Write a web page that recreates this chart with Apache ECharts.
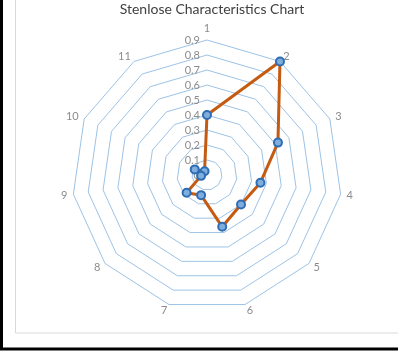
<!DOCTYPE html>
<html>
<head>
<meta charset="utf-8">
<title>Stenlose Characteristics Chart</title>
<script src="https://cdn.jsdelivr.net/npm/echarts@6/dist/echarts.min.js"></script>
<style>
  html, body { margin: 0; padding: 0; background: #fff; }
  #chart { width: 398px; height: 360px; }
</style>
</head>
<body>
<div id="chart"></div>
<script>
// Characteristic numbers, listed clockwise from the top spoke
const categories = ['1', '2', '3', '4', '5', '6', '7', '8', '9', '10', '11'];
const values = [0.40, 0.90, 0.52, 0.36, 0.30, 0.36, 0.14, 0.18, 0.04, 0.09, 0.03];
const ringMax = 0.9;
const ringSteps = 9;

// ECharts lays indicators out counter-clockwise, so keep the first one on top
// and walk the rest backwards to read clockwise.
const order = [0].concat(categories.map((_, i) => i).slice(1).reverse());

const indicators = order.map((i, k) => {
  const ind = { name: categories[i], max: ringMax, min: 0 };
  if (k === 0) {
    // Ring values are printed only along the top spoke
    ind.axisLabel = {
      show: true,
      color: '#8c8c8c',
      fontSize: 11,
      fontFamily: 'Lato',
      margin: 7,
      formatter: v => String(+v.toFixed(1))
    };
  }
  return ind;
});

const chart = echarts.init(document.getElementById('chart'), null, { renderer: 'canvas' });
chart.setOption({
  animation: false,
  backgroundColor: '#fff',
  title: {
    text: 'Stenlose Characteristics Chart',
    left: 207,
    textAlign: 'center',
    top: -3,
    textStyle: { color: '#404040', fontSize: 14, fontWeight: 'normal', fontFamily: 'Lato' }
  },
  graphic: [
    { type: 'rect', silent: true, shape: { x: 15.5, y: -10, width: 400, height: 343 },
      style: { fill: null, stroke: '#d9d9d9', lineWidth: 1 } },
    { type: 'line', silent: true, shape: { x1: 1.5, y1: 0, x2: 1.5, y2: 350 },
      style: { stroke: '#000', lineWidth: 3 } },
    { type: 'line', silent: true, shape: { x1: 0, y1: 349, x2: 398, y2: 349 },
      style: { stroke: '#000', lineWidth: 3 } }
  ],
  radar: {
    center: [207, 175],
    radius: 135,
    startAngle: 90,
    shape: 'polygon',
    splitNumber: ringSteps,
    indicator: indicators,
    axisName: { color: '#8c8c8c', fontSize: 11, fontFamily: 'Lato' },
    nameGap: 6,
    axisLine: { show: false },
    axisTick: { show: false },
    axisLabel: { show: false },
    splitArea: { show: false },
    splitLine: { lineStyle: { color: '#9DC3E6', width: 1 } }
  },
  series: [{
    type: 'radar',
    symbol: 'circle',
    symbolSize: 8,
    lineStyle: { color: '#C55A11', width: 3 },
    itemStyle: { color: '#7FAEDD', borderColor: '#2E6DB4', borderWidth: 2 },
    data: [{ value: order.map(i => values[i]) }]
  }]
});
</script>
</body>
</html>
